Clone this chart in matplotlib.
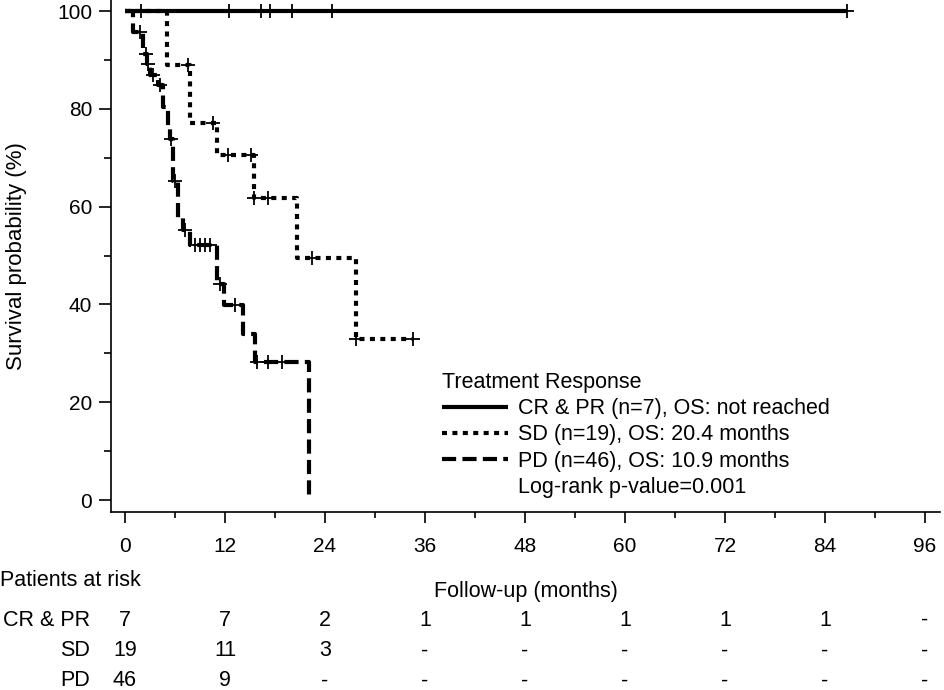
import matplotlib
matplotlib.use('Agg')
import matplotlib.pyplot as plt
from matplotlib.lines import Line2D
from matplotlib.transforms import blended_transform_factory

plt.rcParams['font.family'] = ['Liberation Sans', 'DejaVu Sans']

# step curves: event times (months) and survival after each drop (%)
cr_t = [0, 86.6]
cr_s = [100, 100]
cr_cens_t = [1.9, 12.5, 16.3, 17.4, 20.0, 24.8, 86.6]
cr_cens_s = [100, 100, 100, 100, 100, 100, 100]

sd_t = [0, 5.0, 7.8, 11.0, 15.5, 20.6, 27.7, 34.6]
sd_s = [100, 89.0, 77.1, 70.6, 61.8, 49.4, 33.0, 33.0]
sd_cens_t = [7.6, 10.6, 12.4, 15.1, 15.5, 17.2, 22.4, 27.7, 34.6]
sd_cens_s = [89.0, 77.1, 70.6, 70.6, 61.8, 61.8, 49.4, 33.0, 33.0]

pd_t = [0, 1.0, 2.1, 2.6, 3.0, 4.0, 4.6, 5.2, 5.4, 5.8, 6.4, 7.0, 7.8,
        11.0, 11.9, 14.2, 15.6, 22.1]
pd_s = [100, 95.7, 91.3, 89.1, 87.0, 84.8, 80.4, 76.1, 73.9, 65.2, 57.6,
        55.2, 52.1, 44.2, 39.8, 34.0, 28.3, 0]
pd_cens_t = [1.8, 2.5, 2.8, 3.4, 4.2, 5.5, 6.0, 7.2, 8.4, 9.0, 9.6, 10.2,
             11.4, 13.2, 15.8, 17.2, 18.8]
pd_cens_s = [95.7, 91.3, 89.1, 87.0, 84.8, 73.9, 65.2, 55.2, 52.1, 52.1,
             52.1, 52.1, 44.2, 39.8, 28.3, 28.3, 28.3]

labels = ['CR & PR (n=7), OS: not reached',
          'SD (n=19), OS: 20.4 months',
          'PD (n=46), OS: 10.9 months']
pvalue = 'Log-rank p-value=0.001'

risk_times = [0, 12, 24, 36, 48, 60, 72, 84, 96]
risk_groups = ['CR & PR', 'SD', 'PD']
risk_cr = ['7', '7', '2', '1', '1', '1', '1', '1', '-']
risk_sd = ['19', '11', '3', '-', '-', '-', '-', '-', '-']
risk_pd = ['46', '9', '-', '-', '-', '-', '-', '-', '-']

fs = 15.5

fig = plt.figure(figsize=(9.45, 6.9), dpi=100)
ax = fig.add_axes([111 / 945, 1 - 512 / 690, 829 / 945, 512 / 690])

lw = 3.0
l1, = ax.step(cr_t, cr_s, where='post', color='black', lw=lw,
              solid_capstyle='butt')
l2, = ax.step(sd_t, sd_s, where='post', color='black', lw=lw,
              linestyle=(0, (1.2, 1.3)), dash_capstyle='butt')
l3, = ax.step(pd_t, pd_s, where='post', color='black', lw=lw,
              linestyle=(0, (3.4, 1.5)), dash_capstyle='butt')

for ct, cs in [(cr_cens_t, cr_cens_s), (sd_cens_t, sd_cens_s),
               (pd_cens_t, pd_cens_s)]:
    ax.plot(ct, cs, linestyle='none', marker='+', color='black',
            markersize=10, markeredgewidth=1.3)

ax.set_xlim(-1.68, 97.8)
ax.set_ylim(-2.45, 102.25)

for s in ['top', 'right']:
    ax.spines[s].set_visible(False)
for s in ['left', 'bottom']:
    ax.spines[s].set_linewidth(1.2)

ax.set_xticks(risk_times)
ax.set_xticks(range(6, 96, 12), minor=True)
ax.set_yticks([0, 20, 40, 60, 80, 100])
ax.set_yticks([10, 30, 50, 70, 90], minor=True)
ax.tick_params(axis='x', which='major', length=8, width=1.2, pad=10,
               labelsize=15)
ax.tick_params(axis='x', which='minor', length=4.5, width=1.2)
ax.tick_params(axis='y', which='major', length=8.5, width=1.2, pad=5,
               labelsize=15)
ax.tick_params(axis='y', which='minor', length=5, width=1.2)
ax.set_ylabel('Survival probability (%)', fontsize=16, labelpad=22)

blank = Line2D([], [], linestyle='none')
leg = ax.legend([l1, l2, l3, blank], labels + [pvalue],
                title='Treatment Response', loc='upper left',
                bbox_to_anchor=(0.386, 0.295), frameon=False,
                fontsize=fs, title_fontsize=fs, borderpad=0,
                handlelength=3.07, handletextpad=0.47, labelspacing=0.25,
                alignment='left')

trans = blended_transform_factory(ax.transData, fig.transFigure)
fig.text(0.0, 1 - 580 / 690, 'Patients at risk', fontsize=fs,
         ha='left', va='center')
fig.text(526 / 945, 1 - 592 / 690, 'Follow-up (months)', fontsize=fs,
         ha='center', va='center')
row_y = [1 - 620 / 690, 1 - 651 / 690, 1 - 681 / 690]
for name, row, y in zip(risk_groups, [risk_cr, risk_sd, risk_pd], row_y):
    fig.text(90 / 945, y, name, fontsize=fs, ha='right', va='center')
    for t, v in zip(risk_times, row):
        ax.text(t, y, v, transform=trans, fontsize=fs, ha='center',
                va='center')

fig.savefig('out.png', dpi=100)
